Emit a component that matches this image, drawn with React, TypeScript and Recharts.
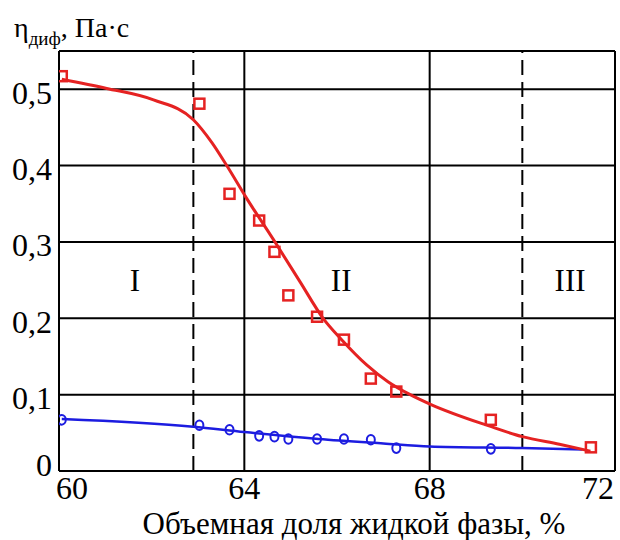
import {
  ComposedChart,
  Line,
  Scatter,
  XAxis,
  YAxis,
  CartesianGrid,
  ReferenceLine,
  ReferenceDot,
} from "recharts";

const FONT = "Liberation Serif, DejaVu Serif, serif";
const RED = "#e52222";
const BLUE = "#1c1ce0";

// axes
const xTicks = [60, 64, 68, 72];
const yTicks = [0, 0.1, 0.2, 0.3, 0.4, 0.5];
const zoneBounds = [62.9, 70];
const zoneNames = ["I", "II", "III"];
const zoneX = [61.64, 66.09, 71.03];
const zoneY = 0.25;

// measured points
const measuredX = [60.06, 63.03, 63.68, 64.32, 64.65, 64.95, 65.57, 66.15, 66.73, 67.28, 69.32, 71.48];
const redMeasured = [0.517, 0.481, 0.363, 0.328, 0.287, 0.23, 0.202, 0.172, 0.121, 0.104, 0.067, 0.031];
const blueMeasured = [0.067, 0.06, 0.054, 0.046, 0.045, 0.042, 0.042, 0.042, 0.041, 0.03, 0.029];

// fitted curves
const redFitX = [60.06, 61.03, 62.04, 62.9, 63.3, 63.62, 64.03, 64.66, 65.2, 65.7, 66.1, 66.64, 67.1, 67.58, 68.03, 69.28, 70.0, 70.8, 71.47];
const redFitY = [0.513, 0.501, 0.486, 0.46, 0.43, 0.4, 0.359, 0.3, 0.248, 0.2, 0.172, 0.139, 0.117, 0.1, 0.087, 0.059, 0.045, 0.035, 0.026];
const blueFitX = [60.06, 62.9, 64.0, 65.6, 67.0, 68.0, 70.0, 71.3];
const blueFitY = [0.068, 0.058, 0.051, 0.042, 0.036, 0.032, 0.03, 0.028];

const redPts = measuredX.map((x, i) => ({ x, y: redMeasured[i] }));
const bluePts = blueMeasured.map((y, i) => ({ x: measuredX[i], y }));
const redFit = redFitX.map((x, i) => ({ x, y: redFitY[i] }));
const blueFit = blueFitX.map((x, i) => ({ x, y: blueFitY[i] }));
const zones = zoneNames.map((name, i) => ({ name, x: zoneX[i], y: zoneY }));

const fmt = (v: number) => (v === 0 ? "0" : v.toFixed(1).replace(".", ","));

const txt = (size: number) => ({ fontFamily: FONT, fontSize: size, fill: "#000" });

const YTick = (props: any) => {
  const { x, y, payload } = props;
  const shift = payload.value === 0 ? -6 : 3;
  return (
    <text x={x + 1} y={y + shift} dy="0.355em" textAnchor="end" style={txt(32)}>
      {fmt(payload.value)}
    </text>
  );
};

const XTick = (props: any) => {
  const { x, y, payload } = props;
  let anchor: any = "middle";
  let dx = 0;
  if (payload.value === 60) {
    anchor = "start";
    dx = -3;
  } else if (payload.value === 72) {
    anchor = "end";
    dx = 2;
  }
  return (
    <text x={x + dx} y={y + 20} textAnchor={anchor} style={txt(32)}>
      {payload.value}
    </text>
  );
};

const AxisTitle = (props: any) => {
  const vb = props.viewBox;
  return (
    <text x={vb.x + vb.width / 2 + 17} y={534} textAnchor="middle" style={txt(31)}>
      Объемная доля жидкой фазы, %
    </text>
  );
};

const Square = (props: any) => (
  <rect x={props.cx - 5} y={props.cy - 5} width={10} height={10} fill="none" stroke={RED} strokeWidth={2.5} />
);

const Ring = (props: any) => (
  <ellipse cx={props.cx} cy={props.cy} rx={4} ry={4.8} fill="none" stroke={BLUE} strokeWidth={2} />
);

const App = () => {
  return (
    <div style={{ position: "absolute", left: 0, top: 0, width: 620, height: 540, background: "#fff" }}>
      <svg width={220} height={50} style={{ position: "absolute", left: 0, top: 0 }}>
        <text x={14} y={37} style={txt(28)}>
          η
          <tspan style={{ fontSize: 19 }} dy={8}>диф</tspan>
          <tspan style={{ fontSize: 28 }} dy={-8}>, Па·с</tspan>
        </text>
      </svg>
      <ComposedChart
        width={620}
        height={540}
        margin={{ top: 51, right: 5, left: 0, bottom: 0 }}
        style={{ fontFamily: FONT }}
      >
        <CartesianGrid stroke="#000" strokeWidth={2} />
        <XAxis
          type="number"
          dataKey="x"
          domain={[60, 72]}
          ticks={xTicks}
          allowDataOverflow
          height={69}
          tickLine={false}
          axisLine={{ stroke: "#000", strokeWidth: 2 }}
          tick={<XTick />}
          label={<AxisTitle />}
        />
        <YAxis
          type="number"
          dataKey="y"
          domain={[0, 0.55]}
          ticks={yTicks}
          allowDataOverflow
          width={59}
          tickLine={false}
          axisLine={{ stroke: "#000", strokeWidth: 2 }}
          tick={<YTick />}
        />
        <ReferenceLine y={0.55} stroke="#000" strokeWidth={2} />
        {zoneBounds.map((b) => (
          <ReferenceLine key={b} x={b} stroke="#000" strokeWidth={2} strokeDasharray="15 7" />
        ))}
        {zones.map((z) => (
          <ReferenceDot
            key={z.name}
            x={z.x}
            y={z.y}
            r={0}
            shape={(p: any) => (
              <text x={p.cx} y={p.cy} dy="0.35em" textAnchor="middle" style={txt(31)}>
                {z.name}
              </text>
            )}
          />
        ))}
        <Line
          data={blueFit}
          dataKey="y"
          type="monotone"
          stroke={BLUE}
          strokeWidth={2.5}
          dot={false}
          isAnimationActive={false}
        />
        <Line
          data={redFit}
          dataKey="y"
          type="monotone"
          stroke={RED}
          strokeWidth={3}
          dot={false}
          isAnimationActive={false}
        />
        <Scatter data={bluePts} dataKey="y" shape={<Ring />} isAnimationActive={false} />
        <Scatter data={redPts} dataKey="y" shape={<Square />} isAnimationActive={false} />
      </ComposedChart>
    </div>
  );
};

export default App;
